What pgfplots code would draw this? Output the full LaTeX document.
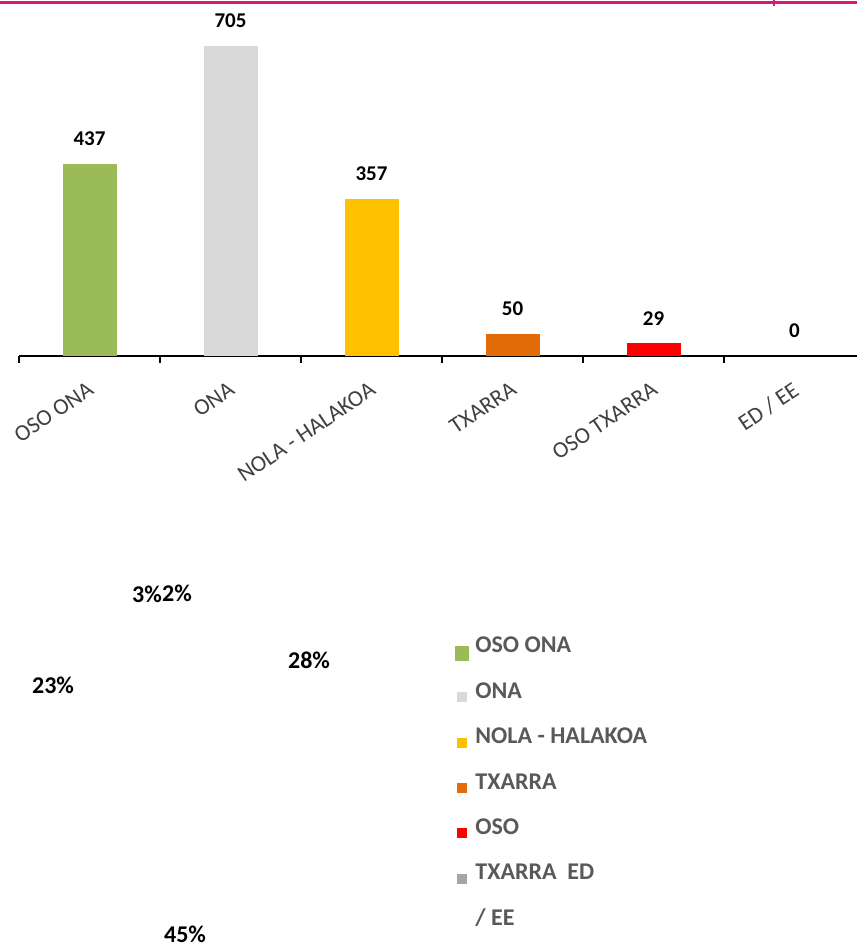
\documentclass[border=0pt]{standalone}
\usepackage{pgfplots}
\pgfplotsset{compat=1.18}
\usepackage{fontspec}
\setmainfont{Carlito}

\definecolor{cOsoOna}{RGB}{155,187,89}
\definecolor{cOna}{RGB}{217,217,217}
\definecolor{cNola}{RGB}{255,192,0}
\definecolor{cTxarra}{RGB}{227,108,9}
\definecolor{cOsoTx}{RGB}{255,0,0}
\definecolor{cEd}{RGB}{165,165,165}
\definecolor{cLeg}{RGB}{89,89,89}
\definecolor{cTick}{RGB}{64,64,64}
\definecolor{cRule}{RGB}{218,24,122}

\newcommand{\fs}[1]{\fontsize{#1}{#1}\selectfont}

% legend squares
\pgfplotsset{
  sqleg/.style={legend image code/.code={\fill[#1] (0pt,-10pt) rectangle (9pt,-1pt); \path (18pt,0pt);}},
  sqbig/.style={legend image code/.code={\fill[#1] (-2pt,-14pt) rectangle (11pt,0pt); \path (18pt,0pt);}},
}

\begin{document}
\begin{tikzpicture}[x=1pt,y=1pt]
\useasboundingbox (0,0) rectangle (857,944);
\draw[cRule, line width=2.5pt] (0,941.5) -- (857,941.5);
\draw[cRule, line width=1.5pt] (774,944) -- (774,938);

% bar chart
\begin{axis}[
  at={(19pt,588pt)}, anchor=south west, scale only axis,
  width=838pt, height=330pt,
  xmin=-0.5, xmax=5.443, ymin=0, ymax=750,
  axis x line*=bottom, axis y line=none,
  x axis line style={black, line width=2pt},
  xtick={0,1,2,3,4,5},
  xticklabels={OSO ONA, ONA, NOLA - HALAKOA, TXARRA, OSO TXARRA, ED / EE},
  major tick length=0pt, tick align=outside,
  extra x ticks={-0.5,0.5,1.5,2.5,3.5,4.5},
  extra x tick labels={},
  extra x tick style={major tick length=7pt, tick style={black, line width=1.5pt}},
  xticklabel style={xshift=-2pt, yshift=-20pt, rotate=34, anchor=north east, font=\fs{23}, text=cTick},
  clip=false,
  /pgf/number format/assume math mode=true,
  nodes near coords,
  every node near coord/.append style={font=\bfseries\fs{21}, text=black, anchor=center, yshift=25pt},
]
\addplot[ybar, bar width=54pt, bar shift=0pt, fill=cOsoOna, draw=none] coordinates {(0,437)};
\addplot[ybar, bar width=54pt, bar shift=0pt, fill=cOna, draw=none] coordinates {(1,705)};
\addplot[ybar, bar width=54pt, bar shift=0pt, fill=cNola, draw=none] coordinates {(2,357)};
\addplot[ybar, bar width=54pt, bar shift=0pt, fill=cTxarra, draw=none] coordinates {(3,50)};
\addplot[ybar, bar width=54pt, bar shift=0pt, fill=cOsoTx, draw=none] coordinates {(4,29)};
\addplot[ybar, bar width=54pt, bar shift=0pt, fill=none, draw=none] coordinates {(5,0)};
\end{axis}

% pie labels (slices not rendered) and legend
\begin{axis}[
  at={(0pt,0pt)}, anchor=south west, scale only axis,
  width=857pt, height=944pt,
  xmin=0, xmax=857, ymin=0, ymax=944,
  hide axis, clip=false,
  legend cell align=left,
  legend style={at={(axis cs:455,312)}, anchor=north west, draw=none, fill=none,
    inner sep=0pt, outer sep=0pt, row sep=17.3pt, column sep=0pt,
    nodes={inner sep=0pt, text height=21pt, text depth=7pt, font=\bfseries\fs{24}, text=cLeg}},
]
\addplot[draw=none, forget plot, nodes near coords, point meta=explicit symbolic,
  every node near coord/.append style={anchor=center, font=\bfseries\fs{24}, text=black}]
  coordinates {(147,350) [3\%] (177,351) [2\%] (309,284) [28\%] (53,259) [23\%] (185,10) [45\%]};
\addlegendimage{sqbig=cOsoOna}\addlegendentry{OSO ONA}
\addlegendimage{sqleg=cOna}\addlegendentry{ONA}
\addlegendimage{sqleg=cNola}\addlegendentry{NOLA - HALAKOA}
\addlegendimage{sqleg=cTxarra}\addlegendentry{TXARRA}
\addlegendimage{sqleg=cOsoTx}\addlegendentry{OSO}
\addlegendimage{sqleg=cEd}\addlegendentry{TXARRA\ \ ED}
\addlegendimage{empty legend}\addlegendentry{/ EE}
\end{axis}
\end{tikzpicture}
\end{document}
